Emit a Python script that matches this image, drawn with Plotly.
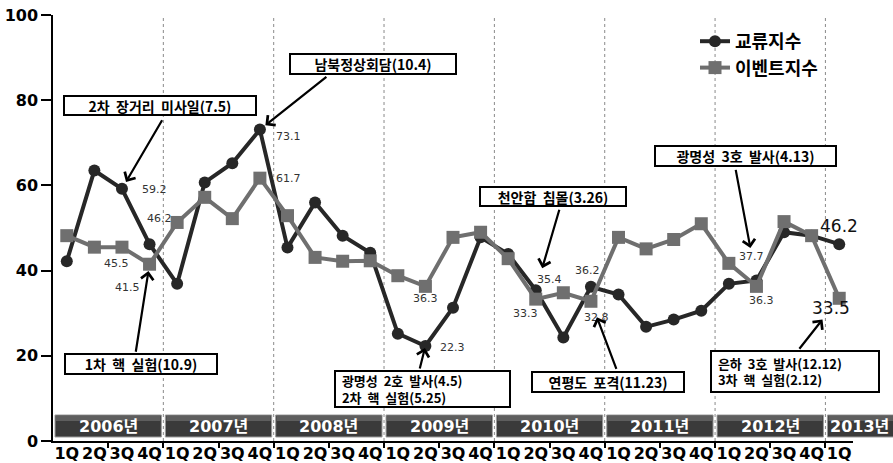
import plotly.graph_objects as go

# ---- data -------------------------------------------------------------
quarters = ["1Q", "2Q", "3Q", "4Q"] * 7 + ["1Q"]
years = ["2006년", "2007년", "2008년", "2009년", "2010년", "2011년", "2012년", "2013년"]

exchange_index = [42.2, 63.5, 59.2, 46.2, 36.9, 60.7, 65.2, 73.1,
                  45.4, 56.0, 48.2, 44.2, 25.2, 22.3, 31.3, 47.8,
                  43.9, 35.4, 24.3, 36.2, 34.4, 26.8, 28.5, 30.6,
                  36.9, 37.7, 49.0, 48.2, 46.2]
event_index = [48.2, 45.5, 45.5, 41.5, 51.3, 57.2, 52.2, 61.7,
               52.9, 43.1, 42.2, 42.3, 38.8, 36.3, 47.8, 49.0,
               42.8, 33.3, 34.8, 32.8, 47.8, 45.1, 47.3, 51.0,
               41.7, 36.3, 51.5, 48.2, 33.5]

series_names = ["교류지수", "이벤트지수"]

# events: (quarter index, series, caption lines)
events = [
    (2, "ex", ["2차 장거리 미사일(7.5)"]),
    (7, "ex", ["남북정상회담(10.4)"]),
    (3, "ev", ["1차 핵 실험(10.9)"]),
    (13, "ex", ["광명성 2호 발사(4.5)", "2차 핵 실험(5.25)"]),
    (17, "ex", ["천안함 침몰(3.26)"]),
    (19, "ev", ["연평도 포격(11.23)"]),
    (25, "ex", ["광명성 3호 발사(4.13)"]),
    (28, "ev", ["은하 3호 발사(12.12)", "3차 핵 실험(2.12)"]),
]

# value labels: (series, quarter index)
value_labels = [("ex", 2), ("ex", 3), ("ev", 2), ("ev", 3), ("ex", 7), ("ev", 7),
                ("ev", 13), ("ex", 13), ("ex", 17), ("ev", 17), ("ex", 19),
                ("ev", 19), ("ex", 25), ("ev", 25), ("ex", 28), ("ev", 28)]

# ---- layout / style ---------------------------------------------------
W, H = 893, 463
ML, MR, MT, MB = 53, 40, 15, 22
PW, PH = W - ML - MR, H - MT - MB

DARK = "#272727"
GREY = "#6f6f6f"
KFONT = "Noto Sans CJK KR"
NFONT = "DejaVu Sans, Noto Sans CJK KR"


def px_x(px):
    return (px - ML) / PW


def px_y(py):
    return (H - MB - py) / PH


def spaced(text):
    # widen the gaps between words
    return text.replace(" ", " \u00a0")


series = {"ex": exchange_index, "ev": event_index}

# label offsets in pixels (dx, dy screen), font size
label_style = {
    ("ex", 2): (33, 1, 11), ("ex", 3): (10, -26, 11), ("ev", 2): (-5, 16, 11),
    ("ev", 3): (-22, 23, 11), ("ex", 7): (29, 7, 11), ("ev", 7): (29, 0, 11),
    ("ev", 13): (0, 12, 11), ("ex", 13): (27, 1, 11), ("ex", 17): (14, -11, 11),
    ("ev", 17): (-10, 14, 11), ("ex", 19): (-3, -16, 11), ("ev", 19): (6, 16, 11),
    ("ex", 25): (-5, -24, 11), ("ev", 25): (5, 14, 11), ("ex", 28): (0, -18, 17),
    ("ev", 28): (-8, 10, 17),
}

# arrow tails (pixel offsets from the point) and standoff
arrow_style = [(41, -70, 8), (68, -54, 7), (-14, 89, 7), (-6, 24, 2),
               (24, -82, 23), (26, 69, 17), (-21, -112, 33), (-41, 52, 27)]

# caption boxes: centre x, centre y, width, height (pixels)
box_style = [(160, 106, 196, 21), (373, 64, 170, 22), (141, 364, 156, 22),
             (422, 389, 179, 38), (553, 197, 150, 21), (608, 382, 156, 22),
             (745, 156, 185, 22), (795, 371, 172, 43)]

xs = list(range(len(quarters)))

fig = go.Figure()
fig.add_trace(go.Scatter(
    x=xs, y=exchange_index, name=series_names[0], mode="lines+markers",
    line=dict(color=DARK, width=4),
    marker=dict(symbol="circle", size=12, color=DARK),
))
fig.add_trace(go.Scatter(
    x=xs, y=event_index, name=series_names[1], mode="lines+markers",
    line=dict(color=GREY, width=4),
    marker=dict(symbol="square", size=13, color=GREY),
))

shapes = []
annotations = []

# dotted year separators
for k in range(1, len(years)):
    shapes.append(dict(type="line", xref="x", yref="paper",
                       x0=4 * k - 0.5, x1=4 * k - 0.5, y0=0, y1=1,
                       line=dict(color="#8a8a8a", width=1, dash="dot"),
                       layer="below"))

# year bands along the bottom
n = len(quarters)
for k, yr in enumerate(years):
    x0 = (4 * k) / n + 2 / PW
    x1 = (4 * k + 4) / n - 2 / PW
    y0, y1 = px_y(437), px_y(415)
    shapes.append(dict(type="rect", xref="paper", yref="paper",
                       x0=x0, x1=x1, y0=y0, y1=y1,
                       fillcolor="#3a3a3a", line=dict(color="#9c9c9c", width=1),
                       layer="below"))
    shapes.append(dict(type="rect", xref="paper", yref="paper",
                       x0=x0 + 1 / PW, x1=x1 - 1 / PW, y0=px_y(421), y1=px_y(416),
                       fillcolor="#5e5e5e", line=dict(width=0), layer="below"))
    visible_right = min(x1, px_x(W - 1))
    annotations.append(dict(xref="paper", yref="paper",
                            x=(x0 + visible_right) / 2, y=px_y(426),
                            xanchor="center", yanchor="middle",
                            text=yr, showarrow=False,
                            font=dict(family=NFONT, size=16, color="white", weight="bold")))

# value labels
for key in value_labels:
    s, i = key
    dx, dy, fs = label_style[key]
    v = series[s][i]
    annotations.append(dict(x=i, y=v, xref="x", yref="y", text=f"{v:.1f}",
                            xanchor="center", yanchor="middle",
                            showarrow=False, xshift=dx, yshift=-dy,
                            font=dict(family="DejaVu Sans", size=fs,
                                      color="#111111" if fs > 12 else "#333333")))

# event arrows and caption boxes
for (i, s, lines), (ax, ay, so), (cx, cy, bw, bh) in zip(events, arrow_style, box_style):
    annotations.append(dict(x=i, y=series[s][i], xref="x", yref="y", text="",
                            showarrow=True, ax=ax, ay=ay, standoff=so,
                            arrowhead=4, arrowsize=1.1, arrowwidth=2.2,
                            arrowcolor="black"))
    multi = len(lines) > 1
    if multi:
        text = "<br>".join("\u00a0\u00a0" + spaced(t) for t in lines)
    else:
        text = spaced(lines[0])
    annotations.append(dict(xref="paper", yref="paper", x=px_x(cx), y=px_y(cy),
                            xanchor="center", yanchor="middle",
                            text=text, showarrow=False,
                            align="left" if multi else "center",
                            width=bw - 6, height=bh - 4,
                            bgcolor="white", bordercolor="black", borderwidth=2,
                            borderpad=0,
                            font=dict(family=KFONT, size=13 if multi else 14,
                                      color="black", weight="bold")))

fig.update_layout(
    width=W, height=H,
    margin=dict(l=ML, r=MR, t=MT, b=MB, autoexpand=False),
    plot_bgcolor="white", paper_bgcolor="white",
    shapes=shapes, annotations=annotations,
    showlegend=True,
    legend=dict(x=px_x(695), y=px_y(23), xanchor="left", yanchor="top",
                bgcolor="rgba(0,0,0,0)", borderwidth=0,
                font=dict(family=KFONT, size=18, color="black", weight="bold"),
                itemwidth=30),
    xaxis=dict(range=[-0.5, n - 0.5], tickmode="array", tickvals=xs, ticktext=quarters,
               ticks="", showline=True, linecolor="black", linewidth=1.5,
               showgrid=False, zeroline=False, automargin=False, ticklabelstandoff=-3,
               tickfont=dict(family="DejaVu Sans", size=16, color="black", weight="bold"),
               minor=dict(tickmode="array", tickvals=[2 * k + 1.5 for k in range(14)],
                          ticks="outside", ticklen=5, tickcolor="black", tickwidth=1.5)),
    yaxis=dict(range=[0, 100], tickmode="array", tickvals=[0, 20, 40, 60, 80, 100],
               ticks="outside", ticklen=10, tickcolor="black", tickwidth=1.5,
               showline=True, linecolor="black", linewidth=1.5,
               showgrid=False, zeroline=False, automargin=False,
               tickfont=dict(family="DejaVu Sans", size=16, color="black", weight="bold")),
)

fig.write_html("out.html")
